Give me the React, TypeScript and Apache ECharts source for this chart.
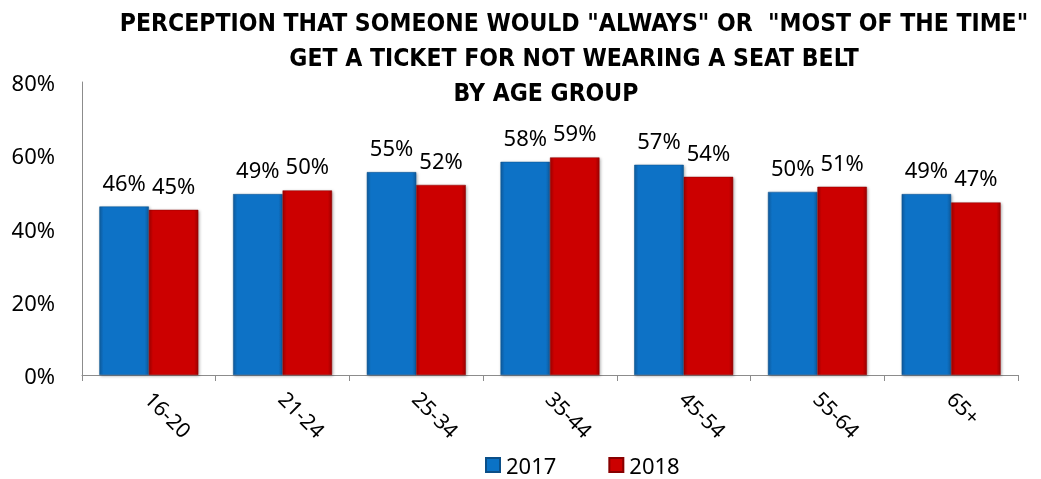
import React, { useEffect, useRef } from "react";
import * as echarts from "echarts";

const categories = ["16-20", "21-24", "25-34", "35-44", "45-54", "55-64", "65+"];
const values2017 = [46.0, 49.4, 55.4, 58.2, 57.4, 50.0, 49.4];
const values2018 = [45.1, 50.4, 51.9, 59.4, 54.1, 51.4, 47.1];
const seriesNames = ["2017", "2018"];
const yTicks = { min: 0, max: 80, interval: 20 };
const titleLines = [
  'PERCEPTION THAT SOMEONE WOULD "ALWAYS" OR  "MOST OF THE TIME"',
  "GET A TICKET FOR NOT WEARING A SEAT BELT",
  "BY AGE GROUP",
];

const FONT = "'Noto Sans', sans-serif";
const TITLE_FONT = "'DejaVu Sans Condensed', 'DejaVu Sans', sans-serif";

function barColor(dark: string, mid: string) {
  return new echarts.graphic.LinearGradient(0, 0, 1, 0, [
    { offset: 0, color: dark },
    { offset: 0.08, color: mid },
    { offset: 0.92, color: mid },
    { offset: 1, color: dark },
  ]);
}

export default function App() {
  const ref = useRef<HTMLDivElement>(null);
  useEffect(() => {
    if (!ref.current) return;
    const chart = echarts.init(ref.current, null, { renderer: "svg" });
    const label = {
      show: true,
      position: "top" as const,
      distance: 14,
      fontFamily: FONT,
      fontSize: 22,
      color: "#000",
      formatter: (p: any) => Math.round(p.value) + "%",
    };
    const tfont = `bold 24.5px ${TITLE_FONT}`;
    chart.setOption({
      animation: false,
      graphic: [
        { type: "text", x: 574, y: 22, style: { text: titleLines[0], align: "center", verticalAlign: "middle", font: tfont, fill: "#000" } },
        { type: "text", x: 574, y: 57, style: { text: titleLines[1], align: "center", verticalAlign: "middle", font: tfont, fill: "#000" } },
        { type: "text", x: 546, y: 92, style: { text: titleLines[2], align: "center", verticalAlign: "middle", font: tfont, fill: "#000" } },
      ],
      legend: {
        data: seriesNames,
        left: 485,
        top: 454,
        padding: 0,
        itemWidth: 14,
        itemHeight: 14,
        itemGap: 52,
        icon: "rect",
        textStyle: { fontFamily: FONT, fontSize: 22, lineHeight: 22, color: "#000", padding: [0, 0, 0, 1] },
      },
      grid: { left: 82, right: 23, top: 82, bottom: 104, containLabel: false },
      xAxis: {
        type: "category",
        data: categories,
        axisLine: { lineStyle: { color: "#8c8c8c", width: 1 } },
        axisTick: { show: true, length: 6, lineStyle: { color: "#8c8c8c" } },
        axisLabel: { rotate: -45, margin: 20, fontFamily: FONT, fontSize: 21, color: "#000" },
      },
      yAxis: {
        type: "value",
        min: yTicks.min,
        max: yTicks.max,
        interval: yTicks.interval,
        splitLine: { show: false },
        axisLine: { show: true, lineStyle: { color: "#8c8c8c", width: 1 } },
        axisTick: { show: false },
        axisLabel: { formatter: "{value}%", margin: 27, fontFamily: FONT, fontSize: 22, color: "#000" },
      },
      series: [
        {
          name: seriesNames[0],
          type: "bar",
          data: values2017,
          barWidth: "37%",
          barGap: "0%",
          itemStyle: {
            color: barColor("#0a5a9c", "#0a72c6"),
            borderColor: "#0b4f88",
            borderWidth: 0.5,
            shadowColor: "rgba(0,0,0,0.35)",
            shadowBlur: 3,
            shadowOffsetX: 1,
            shadowOffsetY: 1,
          },
          label,
        },
        {
          name: seriesNames[1],
          type: "bar",
          data: values2018,
          barWidth: "37%",
          barGap: "0%",
          itemStyle: {
            color: barColor("#9c0000", "#cc0000"),
            borderColor: "#880000",
            borderWidth: 0.5,
            shadowColor: "rgba(0,0,0,0.35)",
            shadowBlur: 3,
            shadowOffsetX: 1,
            shadowOffsetY: 1,
          },
          label,
        },
      ],
    });
    return () => chart.dispose();
  }, []);
  return (
    <div
      ref={ref}
      style={{ position: "fixed", left: 0, top: 0, width: 1041, height: 479, overflow: "hidden" }}
    />
  );
}
